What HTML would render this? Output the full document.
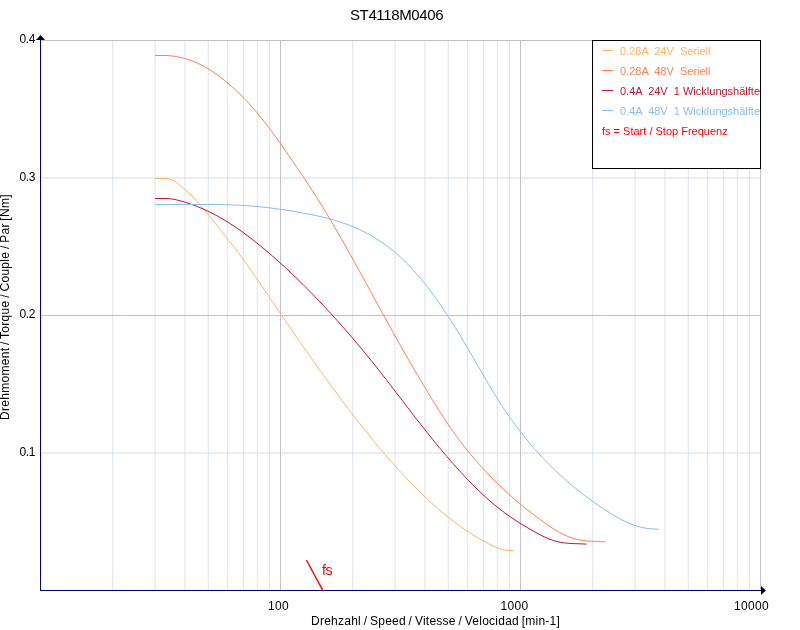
<!DOCTYPE html>
<html><head><meta charset="utf-8"><title>ST4118M0406</title>
<style>
html,body{margin:0;padding:0;background:#fff;}
body{width:800px;height:630px;position:relative;overflow:hidden;font-family:"Liberation Sans",sans-serif;color:#000;}
svg{position:absolute;left:0;top:0;}
.t{position:absolute;white-space:pre;line-height:1;}
.title{left:350px;top:7px;font-size:15px;letter-spacing:-0.38px;}
.yt{font-size:12px;width:35px;text-align:right;left:0;letter-spacing:-0.4px;}
.xt{font-size:12px;top:600px;letter-spacing:0.33px;}
.xl{font-size:12px;left:311px;top:615px;letter-spacing:0.25px;word-spacing:-0.9px;}
.yl{font-size:12px;left:0;top:0;transform-origin:0 0;transform:translate(-1.2px,420px) rotate(-90deg);letter-spacing:0.3px;word-spacing:-1px;}
.lg{font-size:11px;left:620px;}
.fs{font-size:14px;color:#f00;left:322px;top:563px;letter-spacing:-0.3px;}
</style></head><body>
<svg width="800" height="630" viewBox="0 0 800 630">
<rect x="112.25" y="40" width="1" height="550" fill="#DCE4ED"/>
<rect x="154.51" y="40" width="1" height="550" fill="#DCE4ED"/>
<rect x="184.49" y="40" width="1" height="550" fill="#DCE4ED"/>
<rect x="207.75" y="40" width="1" height="550" fill="#DCE4ED"/>
<rect x="226.76" y="40" width="1" height="550" fill="#DCE4ED"/>
<rect x="242.82" y="40" width="1" height="550" fill="#DCE4ED"/>
<rect x="256.74" y="40" width="1" height="550" fill="#DCE4ED"/>
<rect x="269.02" y="40" width="1" height="550" fill="#DCE4ED"/>
<rect x="352.25" y="40" width="1" height="550" fill="#DCE4ED"/>
<rect x="394.51" y="40" width="1" height="550" fill="#DCE4ED"/>
<rect x="424.49" y="40" width="1" height="550" fill="#DCE4ED"/>
<rect x="447.75" y="40" width="1" height="550" fill="#DCE4ED"/>
<rect x="466.76" y="40" width="1" height="550" fill="#DCE4ED"/>
<rect x="482.82" y="40" width="1" height="550" fill="#DCE4ED"/>
<rect x="496.74" y="40" width="1" height="550" fill="#DCE4ED"/>
<rect x="509.02" y="40" width="1" height="550" fill="#DCE4ED"/>
<rect x="592.25" y="40" width="1" height="550" fill="#DCE4ED"/>
<rect x="634.51" y="40" width="1" height="550" fill="#DCE4ED"/>
<rect x="664.49" y="40" width="1" height="550" fill="#DCE4ED"/>
<rect x="687.75" y="40" width="1" height="550" fill="#DCE4ED"/>
<rect x="706.76" y="40" width="1" height="550" fill="#DCE4ED"/>
<rect x="722.82" y="40" width="1" height="550" fill="#DCE4ED"/>
<rect x="736.74" y="40" width="1" height="550" fill="#DCE4ED"/>
<rect x="749.02" y="40" width="1" height="550" fill="#DCE4ED"/>
<rect x="40" y="177.5" width="721" height="1" fill="#DADCE1"/>
<rect x="40" y="452.5" width="721" height="1" fill="#DADCE1"/>
<rect x="280" y="40" width="1" height="550" fill="#BFBFCF"/>
<rect x="520" y="40" width="1" height="550" fill="#BFBFCF"/>
<rect x="760" y="40" width="1" height="550" fill="#BFBFCF"/>
<rect x="40" y="40" width="721" height="1" fill="#BFBFCF"/>
<rect x="40" y="315" width="721" height="1" fill="#BFBFCF"/>
<path d="M155.0,178.50 L157.0,178.59 L159.0,178.57 L161.0,178.50 L163.0,178.50 L165.0,178.50 L167.0,178.61 L169.0,178.97 L171.0,179.59 L173.0,180.48 L175.0,181.62 L177.0,182.94 L179.0,184.41 L181.0,185.98 L183.0,187.64 L185.0,189.38 L187.0,191.19 L189.0,193.08 L191.0,195.04 L193.0,197.07 L195.0,199.16 L197.0,201.31 L199.0,203.53 L201.0,205.79 L203.0,208.12 L205.0,210.49 L207.0,212.91 L209.0,215.37 L211.0,217.86 L213.0,220.38 L215.0,222.91 L217.0,225.45 L219.0,227.98 L221.0,230.51 L223.0,233.04 L225.0,235.56 L227.0,238.08 L229.0,240.62 L231.0,243.17 L233.0,245.74 L235.0,248.35 L237.0,250.99 L239.0,253.68 L241.0,256.39 L243.0,259.14 L245.0,261.92 L247.0,264.73 L249.0,267.56 L251.0,270.42 L253.0,273.30 L255.0,276.19 L257.0,279.10 L259.0,282.02 L261.0,284.96 L263.0,287.90 L265.0,290.85 L267.0,293.80 L269.0,296.75 L271.0,299.70 L273.0,302.64 L275.0,305.58 L277.0,308.52 L279.0,311.46 L281.0,314.39 L283.0,317.32 L285.0,320.24 L287.0,323.16 L289.0,326.07 L291.0,328.98 L293.0,331.88 L295.0,334.78 L297.0,337.67 L299.0,340.55 L301.0,343.43 L303.0,346.30 L305.0,349.16 L307.0,352.02 L309.0,354.87 L311.0,357.70 L313.0,360.53 L315.0,363.36 L317.0,366.17 L319.0,368.97 L321.0,371.77 L323.0,374.55 L325.0,377.32 L327.0,380.09 L329.0,382.84 L331.0,385.58 L333.0,388.31 L335.0,391.03 L337.0,393.74 L339.0,396.43 L341.0,399.12 L343.0,401.79 L345.0,404.44 L347.0,407.09 L349.0,409.72 L351.0,412.33 L353.0,414.94 L355.0,417.52 L357.0,420.10 L359.0,422.66 L361.0,425.20 L363.0,427.73 L365.0,430.24 L367.0,432.74 L369.0,435.22 L371.0,437.68 L373.0,440.13 L375.0,442.56 L377.0,444.97 L379.0,447.36 L381.0,449.74 L383.0,452.10 L385.0,454.44 L387.0,456.76 L389.0,459.06 L391.0,461.34 L393.0,463.61 L395.0,465.85 L397.0,468.07 L399.0,470.27 L401.0,472.45 L403.0,474.61 L405.0,476.75 L407.0,478.87 L409.0,480.97 L411.0,483.04 L413.0,485.09 L415.0,487.12 L417.0,489.12 L419.0,491.11 L421.0,493.06 L423.0,495.00 L425.0,496.91 L427.0,498.79 L429.0,500.66 L431.0,502.49 L433.0,504.30 L435.0,506.09 L437.0,507.85 L439.0,509.58 L441.0,511.29 L443.0,512.97 L445.0,514.62 L447.0,516.25 L449.0,517.85 L451.0,519.42 L453.0,520.96 L455.0,522.48 L457.0,523.96 L459.0,525.42 L461.0,526.86 L463.0,528.26 L465.0,529.64 L467.0,530.99 L469.0,532.31 L471.0,533.60 L473.0,534.87 L475.0,536.11 L477.0,537.32 L479.0,538.50 L481.0,539.65 L483.0,540.78 L485.0,541.88 L487.0,542.95 L489.0,543.99 L491.0,545.01 L493.0,545.99 L495.0,546.91 L497.0,547.77 L499.0,548.54 L501.0,549.21 L503.0,549.75 L505.0,550.16 L507.0,550.42 L509.0,550.50 L511.0,550.47 L513.0,550.63 L514.0,550.91" fill="none" stroke="#FFB266" stroke-width="1.0" stroke-linejoin="round"/>
<path d="M155.0,55.60 L157.0,55.50 L159.0,55.50 L161.0,55.50 L163.0,55.50 L165.0,55.50 L167.0,55.53 L169.0,55.68 L171.0,55.87 L173.0,56.11 L175.0,56.40 L177.0,56.74 L179.0,57.13 L181.0,57.56 L183.0,58.05 L185.0,58.59 L187.0,59.19 L189.0,59.83 L191.0,60.53 L193.0,61.29 L195.0,62.10 L197.0,62.96 L199.0,63.88 L201.0,64.86 L203.0,65.89 L205.0,66.98 L207.0,68.12 L209.0,69.32 L211.0,70.57 L213.0,71.87 L215.0,73.23 L217.0,74.63 L219.0,76.09 L221.0,77.60 L223.0,79.15 L225.0,80.76 L227.0,82.41 L229.0,84.11 L231.0,85.86 L233.0,87.66 L235.0,89.50 L237.0,91.39 L239.0,93.33 L241.0,95.31 L243.0,97.34 L245.0,99.41 L247.0,101.53 L249.0,103.69 L251.0,105.90 L253.0,108.15 L255.0,110.45 L257.0,112.79 L259.0,115.17 L261.0,117.61 L263.0,120.08 L265.0,122.60 L267.0,125.17 L269.0,127.77 L271.0,130.43 L273.0,133.12 L275.0,135.86 L277.0,138.64 L279.0,141.46 L281.0,144.31 L283.0,147.19 L285.0,150.09 L287.0,153.00 L289.0,155.92 L291.0,158.84 L293.0,161.76 L295.0,164.69 L297.0,167.62 L299.0,170.56 L301.0,173.52 L303.0,176.48 L305.0,179.47 L307.0,182.47 L309.0,185.50 L311.0,188.56 L313.0,191.64 L315.0,194.76 L317.0,197.91 L319.0,201.10 L321.0,204.32 L323.0,207.57 L325.0,210.86 L327.0,214.17 L329.0,217.52 L331.0,220.89 L333.0,224.28 L335.0,227.71 L337.0,231.15 L339.0,234.62 L341.0,238.11 L343.0,241.63 L345.0,245.15 L347.0,248.70 L349.0,252.27 L351.0,255.84 L353.0,259.44 L355.0,263.04 L357.0,266.66 L359.0,270.29 L361.0,273.92 L363.0,277.56 L365.0,281.21 L367.0,284.87 L369.0,288.52 L371.0,292.19 L373.0,295.85 L375.0,299.51 L377.0,303.17 L379.0,306.83 L381.0,310.48 L383.0,314.13 L385.0,317.77 L387.0,321.41 L389.0,325.04 L391.0,328.65 L393.0,332.26 L395.0,335.85 L397.0,339.43 L399.0,343.00 L401.0,346.54 L403.0,350.07 L405.0,353.58 L407.0,357.08 L409.0,360.55 L411.0,364.00 L413.0,367.42 L415.0,370.83 L417.0,374.23 L419.0,377.60 L421.0,380.96 L423.0,384.31 L425.0,387.64 L427.0,390.96 L429.0,394.26 L431.0,397.55 L433.0,400.81 L435.0,404.04 L437.0,407.25 L439.0,410.42 L441.0,413.55 L443.0,416.65 L445.0,419.70 L447.0,422.70 L449.0,425.65 L451.0,428.55 L453.0,431.40 L455.0,434.19 L457.0,436.94 L459.0,439.63 L461.0,442.28 L463.0,444.88 L465.0,447.44 L467.0,449.95 L469.0,452.42 L471.0,454.84 L473.0,457.23 L475.0,459.57 L477.0,461.87 L479.0,464.14 L481.0,466.36 L483.0,468.56 L485.0,470.71 L487.0,472.84 L489.0,474.92 L491.0,476.98 L493.0,479.01 L495.0,481.01 L497.0,482.97 L499.0,484.92 L501.0,486.83 L503.0,488.72 L505.0,490.58 L507.0,492.41 L509.0,494.22 L511.0,496.01 L513.0,497.77 L515.0,499.51 L517.0,501.22 L519.0,502.92 L521.0,504.59 L523.0,506.24 L525.0,507.86 L527.0,509.47 L529.0,511.06 L531.0,512.63 L533.0,514.18 L535.0,515.71 L537.0,517.22 L539.0,518.71 L541.0,520.19 L543.0,521.65 L545.0,523.08 L547.0,524.49 L549.0,525.86 L551.0,527.20 L553.0,528.49 L555.0,529.74 L557.0,530.94 L559.0,532.09 L561.0,533.18 L563.0,534.20 L565.0,535.16 L567.0,536.04 L569.0,536.85 L571.0,537.57 L573.0,538.22 L575.0,538.79 L577.0,539.29 L579.0,539.72 L581.0,540.09 L583.0,540.40 L585.0,540.67 L587.0,540.88 L589.0,541.05 L591.0,541.19 L593.0,541.29 L595.0,541.36 L597.0,541.43 L599.0,541.50 L601.0,541.61 L603.0,541.76 L605.0,541.98 L605.5,542.04" fill="none" stroke="#FF7F50" stroke-width="1.0" stroke-linejoin="round"/>
<path d="M155.0,198.57 L157.0,198.50 L159.0,198.50 L161.0,198.50 L163.0,198.50 L165.0,198.50 L167.0,198.51 L169.0,198.67 L171.0,198.90 L173.0,199.21 L175.0,199.58 L177.0,200.02 L179.0,200.51 L181.0,201.04 L183.0,201.62 L185.0,202.22 L187.0,202.86 L189.0,203.52 L191.0,204.21 L193.0,204.93 L195.0,205.68 L197.0,206.45 L199.0,207.26 L201.0,208.09 L203.0,208.95 L205.0,209.84 L207.0,210.76 L209.0,211.71 L211.0,212.69 L213.0,213.71 L215.0,214.75 L217.0,215.83 L219.0,216.93 L221.0,218.07 L223.0,219.23 L225.0,220.43 L227.0,221.65 L229.0,222.91 L231.0,224.19 L233.0,225.49 L235.0,226.83 L237.0,228.19 L239.0,229.57 L241.0,230.98 L243.0,232.42 L245.0,233.88 L247.0,235.36 L249.0,236.87 L251.0,238.39 L253.0,239.94 L255.0,241.51 L257.0,243.10 L259.0,244.72 L261.0,246.35 L263.0,248.00 L265.0,249.67 L267.0,251.35 L269.0,253.06 L271.0,254.78 L273.0,256.52 L275.0,258.27 L277.0,260.04 L279.0,261.83 L281.0,263.63 L283.0,265.45 L285.0,267.29 L287.0,269.14 L289.0,271.01 L291.0,272.90 L293.0,274.80 L295.0,276.71 L297.0,278.64 L299.0,280.59 L301.0,282.55 L303.0,284.53 L305.0,286.52 L307.0,288.53 L309.0,290.55 L311.0,292.59 L313.0,294.65 L315.0,296.71 L317.0,298.80 L319.0,300.89 L321.0,303.00 L323.0,305.13 L325.0,307.27 L327.0,309.42 L329.0,311.59 L331.0,313.78 L333.0,315.97 L335.0,318.18 L337.0,320.41 L339.0,322.64 L341.0,324.90 L343.0,327.16 L345.0,329.44 L347.0,331.73 L349.0,334.04 L351.0,336.36 L353.0,338.69 L355.0,341.04 L357.0,343.40 L359.0,345.78 L361.0,348.17 L363.0,350.57 L365.0,353.00 L367.0,355.43 L369.0,357.88 L371.0,360.35 L373.0,362.83 L375.0,365.33 L377.0,367.85 L379.0,370.38 L381.0,372.92 L383.0,375.48 L385.0,378.04 L387.0,380.62 L389.0,383.20 L391.0,385.80 L393.0,388.40 L395.0,391.00 L397.0,393.61 L399.0,396.22 L401.0,398.83 L403.0,401.45 L405.0,404.06 L407.0,406.67 L409.0,409.28 L411.0,411.88 L413.0,414.48 L415.0,417.07 L417.0,419.65 L419.0,422.22 L421.0,424.79 L423.0,427.34 L425.0,429.88 L427.0,432.40 L429.0,434.91 L431.0,437.40 L433.0,439.88 L435.0,442.34 L437.0,444.78 L439.0,447.20 L441.0,449.60 L443.0,451.98 L445.0,454.34 L447.0,456.68 L449.0,459.00 L451.0,461.30 L453.0,463.57 L455.0,465.82 L457.0,468.05 L459.0,470.26 L461.0,472.44 L463.0,474.59 L465.0,476.72 L467.0,478.82 L469.0,480.89 L471.0,482.94 L473.0,484.96 L475.0,486.95 L477.0,488.92 L479.0,490.85 L481.0,492.75 L483.0,494.62 L485.0,496.47 L487.0,498.28 L489.0,500.05 L491.0,501.80 L493.0,503.51 L495.0,505.19 L497.0,506.83 L499.0,508.44 L501.0,510.02 L503.0,511.56 L505.0,513.06 L507.0,514.52 L509.0,515.95 L511.0,517.34 L513.0,518.69 L515.0,520.02 L517.0,521.31 L519.0,522.57 L521.0,523.81 L523.0,525.03 L525.0,526.23 L527.0,527.41 L529.0,528.58 L531.0,529.74 L533.0,530.89 L535.0,532.02 L537.0,533.13 L539.0,534.21 L541.0,535.25 L543.0,536.25 L545.0,537.20 L547.0,538.10 L549.0,538.93 L551.0,539.70 L553.0,540.39 L555.0,541.01 L557.0,541.54 L559.0,542.00 L561.0,542.38 L563.0,542.70 L565.0,542.96 L567.0,543.17 L569.0,543.34 L571.0,543.47 L573.0,543.58 L575.0,543.66 L577.0,543.73 L579.0,543.79 L581.0,543.86 L583.0,543.94 L585.0,544.04 L586.5,544.14" fill="none" stroke="#C8142D" stroke-width="1.0" stroke-linejoin="round"/>
<path d="M155.0,204.50 L157.0,204.50 L159.0,204.52 L161.0,204.53 L163.0,204.54 L165.0,204.55 L167.0,204.55 L169.0,204.55 L171.0,204.54 L173.0,204.54 L175.0,204.53 L177.0,204.52 L179.0,204.51 L181.0,204.50 L183.0,204.50 L185.0,204.50 L187.0,204.50 L189.0,204.50 L191.0,204.50 L193.0,204.50 L195.0,204.50 L197.0,204.50 L199.0,204.50 L201.0,204.50 L203.0,204.50 L205.0,204.50 L207.0,204.50 L209.0,204.50 L211.0,204.50 L213.0,204.50 L215.0,204.50 L217.0,204.52 L219.0,204.56 L221.0,204.60 L223.0,204.64 L225.0,204.69 L227.0,204.74 L229.0,204.81 L231.0,204.88 L233.0,204.95 L235.0,205.04 L237.0,205.13 L239.0,205.23 L241.0,205.34 L243.0,205.46 L245.0,205.59 L247.0,205.73 L249.0,205.87 L251.0,206.03 L253.0,206.19 L255.0,206.37 L257.0,206.55 L259.0,206.74 L261.0,206.94 L263.0,207.15 L265.0,207.36 L267.0,207.59 L269.0,207.82 L271.0,208.06 L273.0,208.31 L275.0,208.57 L277.0,208.84 L279.0,209.11 L281.0,209.40 L283.0,209.69 L285.0,209.99 L287.0,210.29 L289.0,210.61 L291.0,210.93 L293.0,211.26 L295.0,211.59 L297.0,211.94 L299.0,212.29 L301.0,212.65 L303.0,213.01 L305.0,213.39 L307.0,213.77 L309.0,214.15 L311.0,214.55 L313.0,214.96 L315.0,215.38 L317.0,215.81 L319.0,216.25 L321.0,216.71 L323.0,217.18 L325.0,217.66 L327.0,218.17 L329.0,218.69 L331.0,219.23 L333.0,219.79 L335.0,220.37 L337.0,220.98 L339.0,221.60 L341.0,222.25 L343.0,222.93 L345.0,223.63 L347.0,224.36 L349.0,225.11 L351.0,225.89 L353.0,226.71 L355.0,227.55 L357.0,228.43 L359.0,229.33 L361.0,230.28 L363.0,231.25 L365.0,232.26 L367.0,233.31 L369.0,234.40 L371.0,235.52 L373.0,236.68 L375.0,237.89 L377.0,239.13 L379.0,240.42 L381.0,241.75 L383.0,243.13 L385.0,244.55 L387.0,246.02 L389.0,247.53 L391.0,249.09 L393.0,250.70 L395.0,252.37 L397.0,254.08 L399.0,255.85 L401.0,257.67 L403.0,259.54 L405.0,261.47 L407.0,263.45 L409.0,265.49 L411.0,267.59 L413.0,269.75 L415.0,271.97 L417.0,274.25 L419.0,276.58 L421.0,278.97 L423.0,281.42 L425.0,283.92 L427.0,286.47 L429.0,289.08 L431.0,291.73 L433.0,294.44 L435.0,297.19 L437.0,299.99 L439.0,302.84 L441.0,305.73 L443.0,308.67 L445.0,311.65 L447.0,314.67 L449.0,317.73 L451.0,320.84 L453.0,323.98 L455.0,327.16 L457.0,330.37 L459.0,333.62 L461.0,336.91 L463.0,340.23 L465.0,343.58 L467.0,346.96 L469.0,350.37 L471.0,353.81 L473.0,357.26 L475.0,360.73 L477.0,364.21 L479.0,367.69 L481.0,371.16 L483.0,374.63 L485.0,378.07 L487.0,381.50 L489.0,384.90 L491.0,388.26 L493.0,391.59 L495.0,394.87 L497.0,398.09 L499.0,401.26 L501.0,404.38 L503.0,407.43 L505.0,410.43 L507.0,413.38 L509.0,416.27 L511.0,419.10 L513.0,421.89 L515.0,424.62 L517.0,427.31 L519.0,429.95 L521.0,432.54 L523.0,435.08 L525.0,437.58 L527.0,440.03 L529.0,442.44 L531.0,444.80 L533.0,447.13 L535.0,449.41 L537.0,451.66 L539.0,453.86 L541.0,456.03 L543.0,458.16 L545.0,460.26 L547.0,462.32 L549.0,464.35 L551.0,466.34 L553.0,468.30 L555.0,470.23 L557.0,472.12 L559.0,473.98 L561.0,475.82 L563.0,477.62 L565.0,479.39 L567.0,481.14 L569.0,482.86 L571.0,484.55 L573.0,486.21 L575.0,487.85 L577.0,489.46 L579.0,491.05 L581.0,492.62 L583.0,494.16 L585.0,495.68 L587.0,497.18 L589.0,498.66 L591.0,500.12 L593.0,501.56 L595.0,502.97 L597.0,504.38 L599.0,505.76 L601.0,507.13 L603.0,508.48 L605.0,509.81 L607.0,511.11 L609.0,512.39 L611.0,513.65 L613.0,514.87 L615.0,516.06 L617.0,517.21 L619.0,518.32 L621.0,519.39 L623.0,520.42 L625.0,521.40 L627.0,522.33 L629.0,523.20 L631.0,524.03 L633.0,524.79 L635.0,525.50 L637.0,526.14 L639.0,526.71 L641.0,527.22 L643.0,527.66 L645.0,528.04 L647.0,528.35 L649.0,528.61 L651.0,528.81 L653.0,528.96 L655.0,529.07 L657.0,529.16 L658.7,529.27" fill="none" stroke="#87BEF0" stroke-width="1.0" stroke-linejoin="round"/>
<rect x="40" y="40" width="1" height="551" fill="#000080"/>
<rect x="40" y="590" width="722" height="1" fill="#000080"/>
<polygon points="36,40 45,40 40.5,35" fill="#000"/>
<polygon points="761,586 766,590.5 761,595" fill="#000"/>
<path d="M306.4,560 L322.9,590.6" stroke="#FF0000" stroke-width="1.4" fill="none"/>
<rect x="592.5" y="40.5" width="168" height="128" fill="#fff" stroke="#000" stroke-width="1"/>
<rect x="602" y="50" width="11" height="1" fill="#FFB266"/>
<rect x="602" y="70" width="11" height="1" fill="#FF7F50"/>
<rect x="602" y="90" width="11" height="1" fill="#C8142D"/>
<rect x="602" y="110" width="11" height="1" fill="#87BEF0"/>
</svg>
<div class="t title">ST4118M0406</div>
<div class="t yt" style="top:33px">0.4</div>
<div class="t yt" style="top:171px">0.3</div>
<div class="t yt" style="top:308px">0.2</div>
<div class="t yt" style="top:446px">0.1</div>
<div class="t xt" style="left:268px">100</div>
<div class="t xt" style="left:500.5px">1000</div>
<div class="t xt" style="left:734px">10000</div>
<div class="t xl">Drehzahl / Speed / Vitesse / Velocidad [min-1]</div>
<div class="t yl">Drehmoment / Torque / Couple / Par [Nm]</div>
<div class="t lg" style="top:46px;color:#FFB266">0.28A  24V  Seriell</div>
<div class="t lg" style="top:66px;color:#FF7F50">0.28A  48V  Seriell</div>
<div class="t lg" style="top:86px;color:#C8142D">0.4A  24V  1 Wicklungshälfte</div>
<div class="t lg" style="top:106px;color:#87BEF0">0.4A  48V  1 Wicklungshälfte</div>
<div class="t lg" style="top:126px;left:602px;color:#f00">fs = Start / Stop Frequenz</div>
<div class="t fs">fs</div>
</body></html>
